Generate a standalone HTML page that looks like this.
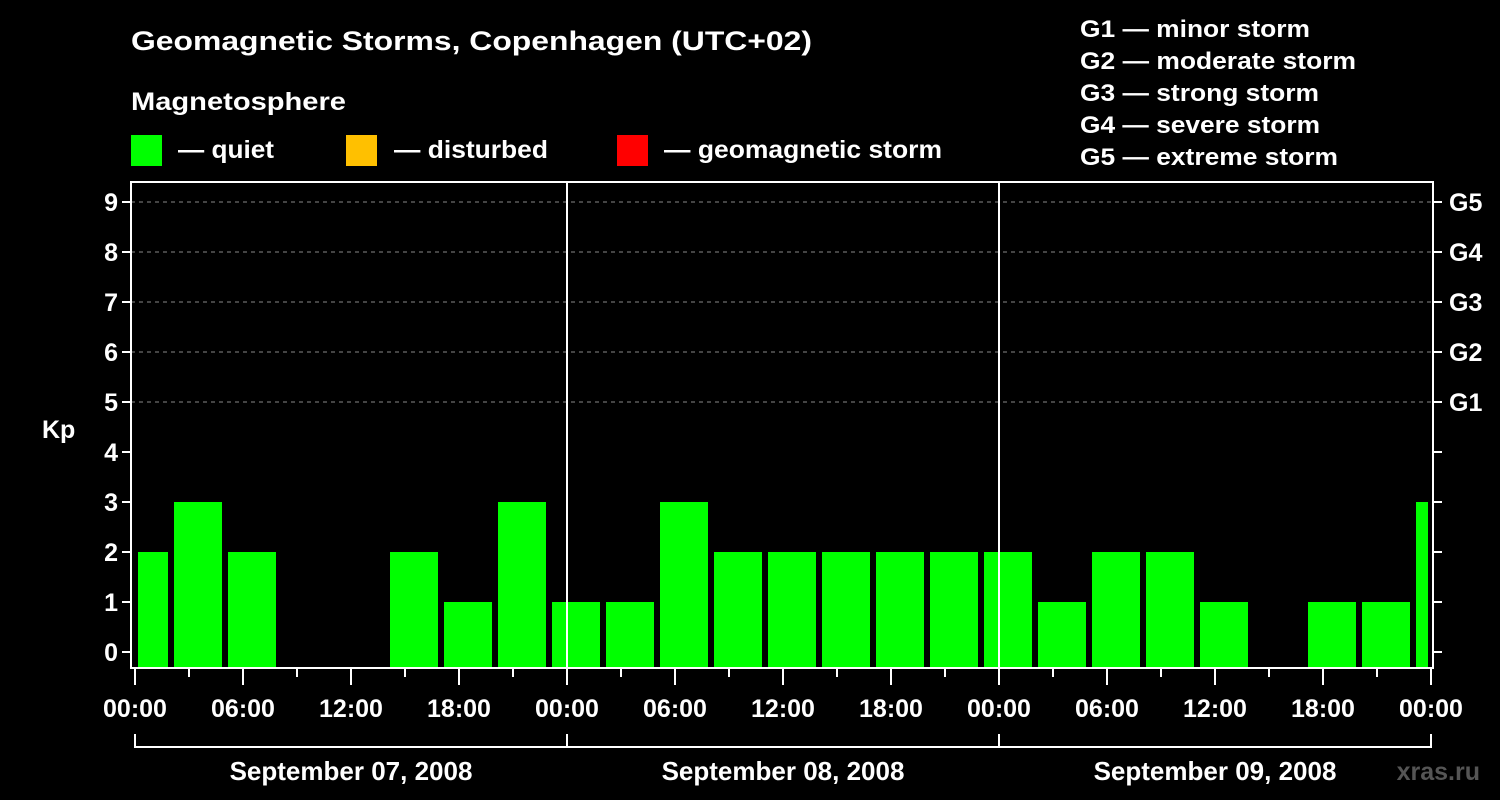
<!DOCTYPE html>
<html><head><meta charset="utf-8"><style>
html,body{margin:0;padding:0;background:#000;}
svg{display:block;font-family:"Liberation Sans",Arial,sans-serif;font-weight:bold;}
</style></head><body>
<svg id="chart" width="1500" height="800" viewBox="0 0 1500 800">
<rect width="1500" height="800" fill="#000"/>
<text x="131" y="50" font-size="27" fill="#fff" textLength="681" lengthAdjust="spacingAndGlyphs">Geomagnetic Storms, Copenhagen (UTC+02)</text>
<text x="131" y="110" font-size="25" fill="#fff" textLength="215" lengthAdjust="spacingAndGlyphs">Magnetosphere</text>
<g><rect x="131" y="135" width="31" height="31" fill="#00ff00"/><text x="178" y="158" font-size="25" fill="#fff" textLength="96" lengthAdjust="spacingAndGlyphs">— quiet</text></g>
<g><rect x="346" y="135" width="31" height="31" fill="#ffc000"/><text x="394" y="158" font-size="25" fill="#fff" textLength="154" lengthAdjust="spacingAndGlyphs">— disturbed</text></g>
<g><rect x="617" y="135" width="31" height="31" fill="#ff0000"/><text x="664" y="158" font-size="25" fill="#fff" textLength="278" lengthAdjust="spacingAndGlyphs">— geomagnetic storm</text></g>
<g font-size="24" fill="#fff">
<text x="1080" y="37" textLength="230" lengthAdjust="spacingAndGlyphs">G1 — minor storm</text>
<text x="1080" y="69" textLength="276" lengthAdjust="spacingAndGlyphs">G2 — moderate storm</text>
<text x="1080" y="101" textLength="239" lengthAdjust="spacingAndGlyphs">G3 — strong storm</text>
<text x="1080" y="133" textLength="240" lengthAdjust="spacingAndGlyphs">G4 — severe storm</text>
<text x="1080" y="165" textLength="258" lengthAdjust="spacingAndGlyphs">G5 — extreme storm</text>
</g>
<text x="42" y="438" font-size="25" fill="#fff">Kp</text>
<g id="grid"></g><g id="bars"></g><g id="axes"></g>
<text x="1480" y="780" font-size="25" fill="#555" text-anchor="end">xras.ru</text>
</svg>
<script>
const kpValues=[2,3,2,0,0,2,1,3,1,1,3,2,2,2,2,2,2,1,2,2,1,0,1,1,3];
const yTicks=[0,1,2,3,4,5,6,7,8,9];
const gLabels=["G1","G2","G3","G4","G5"];
const xTickLabels=["00:00","06:00","12:00","18:00","00:00","06:00","12:00","18:00","00:00","06:00","12:00","18:00","00:00"];
const dayLabels=["September 07, 2008","September 08, 2008","September 09, 2008"];
const firstBarStartHour=-1; // UTC 21:00 prev day = 23:00 local
const NS="http://www.w3.org/2000/svg";
const X0=135,PXH=18,Y0=652,PXK=50,FL=131,FR=1433,FT=182,FB=668,TOTALH=72;
const xs=h=>X0+h*PXH, ys=k=>Y0-k*PXK;
function mk(t,a,p){const e=document.createElementNS(NS,t);for(const k in a)e.setAttribute(k,a[k]);(p||document.getElementById('axes')).appendChild(e);return e;}
const grid=document.getElementById('grid'),bars=document.getElementById('bars');
[5,6,7,8,9].forEach(k=>{const l=mk('line',{x1:FL,x2:FR,y1:ys(k),y2:ys(k),stroke:'#888','stroke-dasharray':'4,4','stroke-width':1},grid);

});
kpValues.forEach((v,i)=>{let s=firstBarStartHour+i*3,e=s+3;s=Math.max(s,0);e=Math.min(e,TOTALH);if(v<=0)return;
const r=mk('rect',{x:xs(s)+3,y:ys(v),width:xs(e)-xs(s)-6,height:FB-ys(v),fill:'#00ff00'},bars);

});
// day separators
[24,48].forEach(h=>{const l=mk('line',{x1:xs(h),x2:xs(h),y1:FT,y2:FB,stroke:'#fff','stroke-width':2});

});
const fr=mk('rect',{x:FL,y:FT,width:FR-FL,height:FB-FT,fill:'none',stroke:'#fff','stroke-width':2});


yTicks.forEach(k=>{mk('line',{x1:FL-9,x2:FL,y1:ys(k),y2:ys(k),stroke:'#fff','stroke-width':2});
mk('line',{x1:FR,x2:FR+9,y1:ys(k),y2:ys(k),stroke:'#fff','stroke-width':2});
const t=mk('text',{x:118,y:ys(k)+9,'font-size':25,fill:'#fff','text-anchor':'end'});t.textContent=k;

});
gLabels.forEach((g,i)=>{const t=mk('text',{x:1449,y:ys(5+i)+9,'font-size':25,fill:'#fff'});t.textContent=g;

});
for(let h=0;h<=TOTALH;h+=3){const maj=h%6===0;mk('line',{x1:xs(h),x2:xs(h),y1:FB,y2:FB+(maj?17:9),stroke:'#fff','stroke-width':2});}
xTickLabels.forEach((s,i)=>{const t=mk('text',{x:xs(i*6),y:717,'font-size':25,fill:'#fff','text-anchor':'middle'});t.textContent=s;

});
mk('line',{x1:xs(0),x2:xs(TOTALH),y1:747,y2:747,stroke:'#fff','stroke-width':2});
[0,24,48,72].forEach(h=>mk('line',{x1:xs(h),x2:xs(h),y1:734,y2:748,stroke:'#fff','stroke-width':2}));
dayLabels.forEach((d,i)=>{const t=mk('text',{x:xs(i*24+12),y:780,'font-size':26,fill:'#fff','text-anchor':'middle'});t.textContent=d;

});
</script>
</body></html>
